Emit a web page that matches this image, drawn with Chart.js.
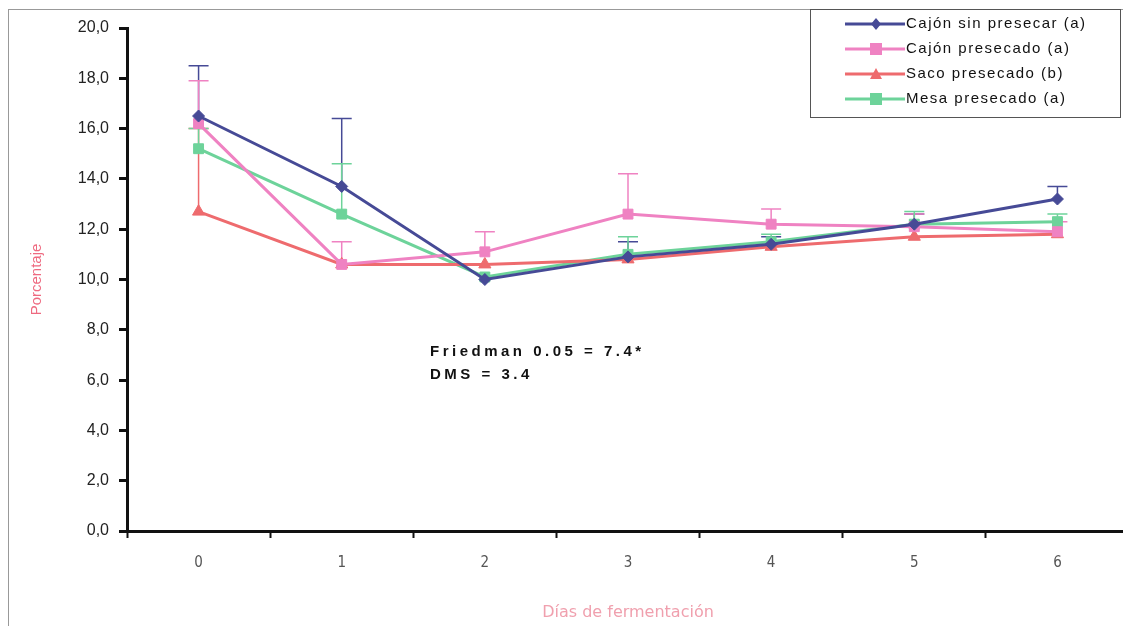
<!DOCTYPE html>
<html>
<head>
<meta charset="utf-8">
<script src="https://cdn.jsdelivr.net/npm/chart.js@4.4.0/dist/chart.umd.min.js"></script>
<style>
  html, body { margin: 0; padding: 0; background: #fff; overflow: hidden; }
  #wrap { position: relative; width: 1123px; height: 626px; overflow: hidden; }
  #frame { position: absolute; left: 8px; top: 9px; width: 1130px; height: 640px; border: 1px solid #999; box-sizing: border-box; }
  canvas { position: absolute; left: 0; top: 0; }
</style>
</head>
<body>
<div id="wrap">
  <div id="frame"></div>
  <canvas id="chart" width="1137" height="626"></canvas>
</div>
<script>
// Categories and series
const dias = ['0', '1', '2', '3', '4', '5', '6'];
const cajonSinPresecar = [16.5, 13.7, 10.0, 10.9, 11.4, 12.2, 13.2];
const cajonPresecado = [16.2, 10.6, 11.1, 12.6, 12.2, 12.1, 11.9];
const sacoPresecado = [12.7, 10.6, 10.6, 10.8, 11.3, 11.7, 11.8];
const mesaPresecado = [15.2, 12.6, 10.1, 11.0, 11.5, 12.2, 12.3];

// Upper error bar lengths
const errCajonSin = [2.0, 2.7, 0, 0.6, 0.3, 0.4, 0.5];
const errCajonPre = [1.7, 0.9, 0.8, 1.6, 0.6, 0.5, 0.4];
const errSaco = [3.3, 0, 0, 0, 0, 0, 0];
const errMesa = [0.8, 2.0, 0, 0.7, 0.3, 0.5, 0.3];

const yTicks = [0, 2, 4, 6, 8, 10, 12, 14, 16, 18, 20];

const colBlue = '#464a96';
const colPink = '#ef82c2';
const colRed = '#ee6b6e';
const colGreen = '#6dd39a';

// Draw upward error bars using the chart scales
const errorBars = {
    id: 'errorBars',
    beforeDatasetsDraw(chart) {
        const ctx = chart.ctx;
        const y = chart.scales.y;
        chart.data.datasets.forEach((ds, i) => {
            const meta = chart.getDatasetMeta(i);
            ctx.save();
            ctx.strokeStyle = ds.borderColor;
            ctx.lineWidth = 1.5;
            meta.data.forEach((pt, j) => {
                const e = ds.errUp[j];
                if (!e) return;
                const top = y.getPixelForValue(ds.data[j] + e);
                ctx.beginPath();
                ctx.moveTo(pt.x, pt.y);
                ctx.lineTo(pt.x, top);
                ctx.moveTo(pt.x - 10, top);
                ctx.lineTo(pt.x + 10, top);
                ctx.stroke();
            });
            ctx.restore();
        });
    }
};

// Annotation text and boxed legend
const extras = {
    id: 'extras',
    afterDraw(chart) {
        const ctx = chart.ctx;
        ctx.save();
        ctx.fillStyle = '#111';
        ctx.font = 'bold 15px "Liberation Sans", Arial, sans-serif';
        ctx.letterSpacing = '3.5px';
        ctx.textBaseline = 'middle';
        ctx.fillText('Friedman 0.05 = 7.4*', 430, 352);
        ctx.fillText('DMS = 3.4', 430, 375);

        // legend box
        ctx.fillStyle = '#fff';
        ctx.fillRect(810, 9, 310, 108);
        ctx.strokeStyle = '#555';
        ctx.lineWidth = 1;
        ctx.strokeRect(810.5, 9.5, 310, 108);
        ctx.font = '15px "Liberation Sans", Arial, sans-serif';
        ctx.letterSpacing = '1.5px';
        chart.data.datasets.forEach((ds, i) => {
            const cy = 24 + i * 25;
            ctx.strokeStyle = ds.borderColor;
            ctx.lineWidth = 3;
            ctx.beginPath();
            ctx.moveTo(845, cy);
            ctx.lineTo(905, cy);
            ctx.stroke();
            ctx.fillStyle = ds.borderColor;
            const mx = 876;
            ctx.beginPath();
            if (ds.pointStyle === 'rectRot') {
                ctx.moveTo(mx, cy - 6); ctx.lineTo(mx + 5, cy); ctx.lineTo(mx, cy + 6); ctx.lineTo(mx - 5, cy);
            } else if (ds.pointStyle === 'triangle') {
                ctx.moveTo(mx, cy - 6); ctx.lineTo(mx + 6, cy + 5); ctx.lineTo(mx - 6, cy + 5);
            } else {
                ctx.rect(mx - 6, cy - 6, 12, 12);
            }
            ctx.closePath();
            ctx.fill();
            ctx.fillStyle = '#111';
            ctx.textAlign = 'left';
            ctx.fillText(ds.label, 906, cy);
        });
        ctx.restore();
    }
};

new Chart(document.getElementById('chart'), {
    type: 'line',
    data: {
        labels: dias,
        datasets: [{
            label: 'Cajón sin presecar (a)',
            data: cajonSinPresecar,
            errUp: errCajonSin,
            borderColor: colBlue,
            backgroundColor: colBlue,
            pointStyle: 'rectRot',
            pointRadius: 6
        }, {
            label: 'Cajón presecado (a)',
            data: cajonPresecado,
            errUp: errCajonPre,
            borderColor: colPink,
            backgroundColor: colPink,
            pointStyle: 'rect',
            pointRadius: 7
        }, {
            label: 'Saco presecado (b)',
            data: sacoPresecado,
            errUp: errSaco,
            borderColor: colRed,
            backgroundColor: colRed,
            pointStyle: 'triangle',
            pointRadius: 7
        }, {
            label: 'Mesa presecado (a)',
            data: mesaPresecado,
            errUp: errMesa,
            borderColor: colGreen,
            backgroundColor: colGreen,
            pointStyle: 'rect',
            pointRadius: 7
        }]
    },
    options: {
        responsive: false,
        animation: false,
        elements: { line: { borderWidth: 3, tension: 0 } },
        layout: { padding: { top: 28, right: 0, left: 0, bottom: 0 } },
        plugins: {
            legend: { display: false },
            tooltip: { enabled: false }
        },
        scales: {
            x: {
                offset: true,
                grid: {
                    offset: true,
                    drawOnChartArea: false,
                    tickLength: 7,
                    tickWidth: 2,
                    tickColor: '#111'
                },
                border: { color: '#111', width: 3 },
                ticks: {
                    color: '#555',
                    padding: 16,
                    font: { size: 15, family: '"DejaVu Sans Condensed", "Liberation Sans", sans-serif', weight: '300' }
                },
                title: {
                    display: true,
                    text: 'Días de fermentación',
                    color: '#f0a0ae',
                    padding: { top: 4 },
                    font: { size: 16, family: '"DejaVu Sans", sans-serif' }
                },
                afterFit(scale) { scale.height = 95; }
            },
            y: {
                min: 0,
                max: 20,
                afterBuildTicks(scale) { scale.ticks = yTicks.map(v => ({ value: v })); },
                grid: {
                    drawOnChartArea: false,
                    tickLength: 8,
                    tickWidth: 3,
                    tickColor: '#111'
                },
                border: { color: '#111', width: 3 },
                ticks: {
                    color: '#222',
                    padding: 10,
                    font: { size: 16, family: '"Liberation Sans", Arial, sans-serif' },
                    callback: v => v.toFixed(1).replace('.', ',')
                },
                title: {
                    display: true,
                    text: 'Porcentaje',
                    color: '#ee6a80',
                    padding: { top: 28, bottom: 0 },
                    font: { size: 15, family: '"Liberation Sans", Arial, sans-serif' }
                },
                afterFit(scale) { scale.width = 127; }
            }
        }
    },
    plugins: [errorBars, extras]
});
</script>
</body>
</html>
